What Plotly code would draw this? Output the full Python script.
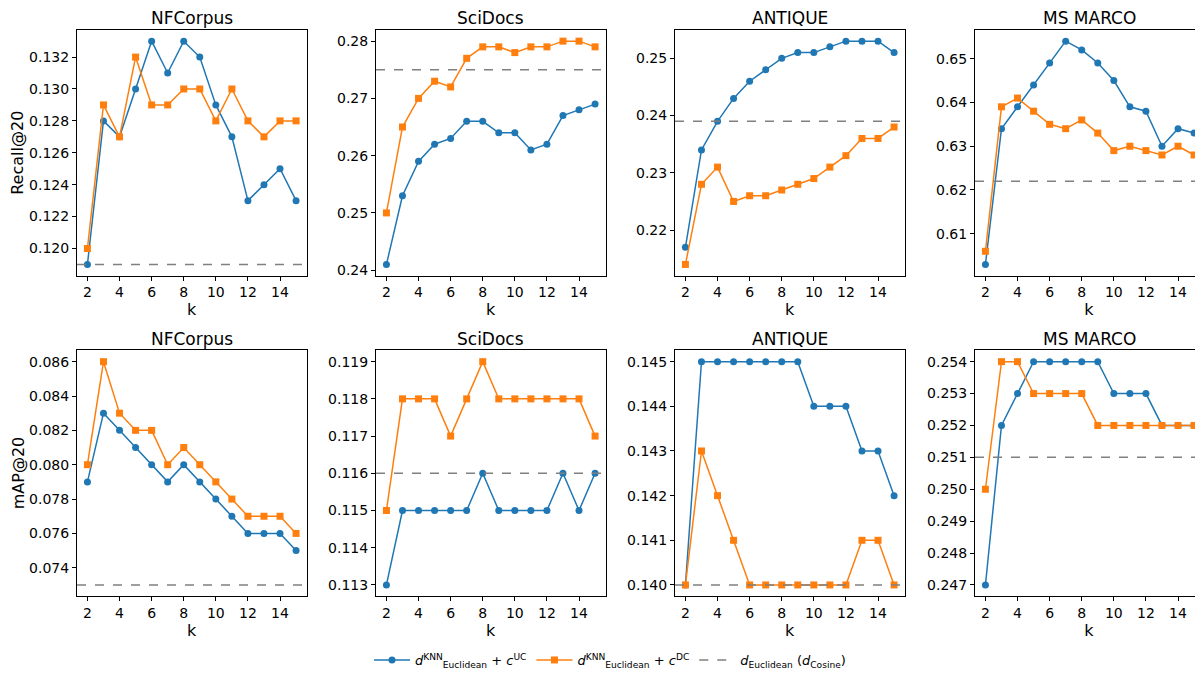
import plotly.graph_objects as go

k = list(range(2, 16))
datasets = ["NFCorpus", "SciDocs", "ANTIQUE", "MS MARCO"]

recall_uc = {
    "NFCorpus": [0.119, 0.128, 0.127, 0.130, 0.133, 0.131, 0.133, 0.132, 0.129, 0.127, 0.123, 0.124, 0.125, 0.123],
    "SciDocs": [0.241, 0.253, 0.259, 0.262, 0.263, 0.266, 0.266, 0.264, 0.264, 0.261, 0.262, 0.267, 0.268, 0.269],
    "ANTIQUE": [0.217, 0.234, 0.239, 0.243, 0.246, 0.248, 0.250, 0.251, 0.251, 0.252, 0.253, 0.253, 0.253, 0.251],
    "MS MARCO": [0.603, 0.634, 0.639, 0.644, 0.649, 0.654, 0.652, 0.649, 0.645, 0.639, 0.638, 0.630, 0.634, 0.633],
}
recall_dc = {
    "NFCorpus": [0.120, 0.129, 0.127, 0.132, 0.129, 0.129, 0.130, 0.130, 0.128, 0.130, 0.128, 0.127, 0.128, 0.128],
    "SciDocs": [0.250, 0.265, 0.270, 0.273, 0.272, 0.277, 0.279, 0.279, 0.278, 0.279, 0.279, 0.280, 0.280, 0.279],
    "ANTIQUE": [0.214, 0.228, 0.231, 0.225, 0.226, 0.226, 0.227, 0.228, 0.229, 0.231, 0.233, 0.236, 0.236, 0.238],
    "MS MARCO": [0.606, 0.639, 0.641, 0.638, 0.635, 0.634, 0.636, 0.633, 0.629, 0.630, 0.629, 0.628, 0.630, 0.628],
}
recall_base = {"NFCorpus": 0.119, "SciDocs": 0.275, "ANTIQUE": 0.239, "MS MARCO": 0.622}

map_uc = {
    "NFCorpus": [0.079, 0.083, 0.082, 0.081, 0.080, 0.079, 0.080, 0.079, 0.078, 0.077, 0.076, 0.076, 0.076, 0.075],
    "SciDocs": [0.113, 0.115, 0.115, 0.115, 0.115, 0.115, 0.116, 0.115, 0.115, 0.115, 0.115, 0.116, 0.115, 0.116],
    "ANTIQUE": [0.140, 0.145, 0.145, 0.145, 0.145, 0.145, 0.145, 0.145, 0.144, 0.144, 0.144, 0.143, 0.143, 0.142],
    "MS MARCO": [0.247, 0.252, 0.253, 0.254, 0.254, 0.254, 0.254, 0.254, 0.253, 0.253, 0.253, 0.252, 0.252, 0.252],
}
map_dc = {
    "NFCorpus": [0.080, 0.086, 0.083, 0.082, 0.082, 0.080, 0.081, 0.080, 0.079, 0.078, 0.077, 0.077, 0.077, 0.076],
    "SciDocs": [0.115, 0.118, 0.118, 0.118, 0.117, 0.118, 0.119, 0.118, 0.118, 0.118, 0.118, 0.118, 0.118, 0.117],
    "ANTIQUE": [0.140, 0.143, 0.142, 0.141, 0.140, 0.140, 0.140, 0.140, 0.140, 0.140, 0.140, 0.141, 0.141, 0.140],
    "MS MARCO": [0.250, 0.254, 0.254, 0.253, 0.253, 0.253, 0.253, 0.252, 0.252, 0.252, 0.252, 0.252, 0.252, 0.252],
}
map_base = {"NFCorpus": 0.073, "SciDocs": 0.116, "ANTIQUE": 0.140, "MS MARCO": 0.251}

recall_dtick = {"NFCorpus": 0.002, "SciDocs": 0.01, "ANTIQUE": 0.01, "MS MARCO": 0.01}
recall_fmt = {"NFCorpus": ".3f", "SciDocs": ".2f", "ANTIQUE": ".2f", "MS MARCO": ".2f"}
map_dtick = {"NFCorpus": 0.002, "SciDocs": 0.001, "ANTIQUE": 0.001, "MS MARCO": 0.001}
map_fmt = {"NFCorpus": ".3f", "SciDocs": ".3f", "ANTIQUE": ".3f", "MS MARCO": ".3f"}

legend_names = [
    "<i>d</i><sup>KNN</sup><sub>Euclidean</sub> + <i>c</i><sup>UC</sup>",
    "<i>d</i><sup>KNN</sup><sub>Euclidean</sub> + <i>c</i><sup>DC</sup>",
    "<i>d</i><sub>Euclidean</sub> (<i>d</i><sub>Cosine</sub>)",
]

BLUE = "#1f77b4"
ORANGE = "#ff7f0e"
GRAY = "#808080"
FONT = "DejaVu Sans"
PAGE_W, PAGE_H = 1203, 675
OFF = 8  # default body margin of the page
W, H = PAGE_W - OFF, PAGE_H - OFF


def px_x(p):
    return (p - OFF) / W


def px_y(p):
    return 1 - (p - OFF) / H


left_px = [77, 376, 675, 975]
width_px = 229.5
row_px = [(30, 276), (351, 597)]

fig = go.Figure()
layout = {}
shapes = []
annotations = []

idx = 0
for r, (uc_d, dc_d, base_d, dt_d, fmt_d, ylab) in enumerate([
    (recall_uc, recall_dc, recall_base, recall_dtick, recall_fmt, "Recall@20"),
    (map_uc, map_dc, map_base, map_dtick, map_fmt, "mAP@20"),
]):
    for c, name in enumerate(datasets):
        idx += 1
        xa = "x" if idx == 1 else f"x{idx}"
        ya = "y" if idx == 1 else f"y{idx}"
        xk = "xaxis" if idx == 1 else f"xaxis{idx}"
        yk = "yaxis" if idx == 1 else f"yaxis{idx}"
        uc, dc, base = uc_d[name], dc_d[name], base_d[name]
        vals = uc + dc + [base]
        lo, hi = min(vals), max(vals)
        pad = 0.05 * (hi - lo)
        x0p = left_px[c]
        x1p = min(x0p + width_px, PAGE_W)
        xr0, xr1 = 2 - 0.65, 15 + 0.65
        if x0p + width_px > PAGE_W:
            xr1 = xr0 + (xr1 - xr0) * (PAGE_W - x0p) / width_px
        top, bot = row_px[r]
        show = (idx == 1)
        fig.add_trace(go.Scatter(
            x=k, y=uc, mode="lines+markers", name=legend_names[0],
            line=dict(color=BLUE, width=1.5),
            marker=dict(symbol="circle", size=7, color=BLUE),
            xaxis=xa, yaxis=ya, showlegend=show, legendgroup="uc", cliponaxis=False))
        fig.add_trace(go.Scatter(
            x=k, y=dc, mode="lines+markers", name=legend_names[1],
            line=dict(color=ORANGE, width=1.5),
            marker=dict(symbol="square", size=7, color=ORANGE),
            xaxis=xa, yaxis=ya, showlegend=show, legendgroup="dc", cliponaxis=False))
        shapes.append(dict(type="line", xref=f"{xa} domain", x0=0, x1=1,
                           yref=ya, y0=base, y1=base,
                           line=dict(color=GRAY, width=1.5, dash="dash")))
        layout[xk] = dict(
            domain=[px_x(x0p), min(px_x(x1p), 1.0)], range=[xr0, xr1], anchor=ya,
            tickmode="array", tickvals=list(range(2, 16, 2)),
            ticks="outside", ticklen=4, tickcolor="black",
            showline=True, linecolor="black", linewidth=1, mirror=True,
            showgrid=False, zeroline=False, automargin=False,
            tickfont=dict(family=FONT, size=14, color="black"),
            title=dict(text="k", font=dict(family=FONT, size=16, color="black"), standoff=0),
        )
        layout[yk] = dict(
            domain=[px_y(bot), px_y(top)], range=[lo - pad, hi + pad], anchor=xa,
            dtick=dt_d[name], tick0=0, tickformat=fmt_d[name],
            ticks="outside", ticklen=4, tickcolor="black",
            showline=True, linecolor="black", linewidth=1, mirror=(c < 3),
            showgrid=False, zeroline=False, automargin=False,
            tickfont=dict(family=FONT, size=14, color="black"),
        )
        annotations.append(dict(
            text=name, x=px_x(x0p + width_px / 2), y=px_y(top - 12),
            xref="paper", yref="paper", showarrow=False, xanchor="center", yanchor="middle",
            font=dict(family=FONT, size=17, color="black")))
        if c == 0:
            annotations.append(dict(
                text=ylab, x=px_x(18), y=px_y((top + bot) / 2), textangle=-90,
                xref="paper", yref="paper", showarrow=False, xanchor="center", yanchor="middle",
                font=dict(family=FONT, size=16, color="black")))

fig.add_trace(go.Scatter(
    x=[None], y=[None], mode="lines", name=legend_names[2],
    line=dict(color=GRAY, width=1.5, dash="dash"), showlegend=True))

fig.update_layout(
    width=W, height=H, margin=dict(l=0, r=0, t=0, b=0),
    plot_bgcolor="white", paper_bgcolor="white",
    font=dict(family=FONT, color="black"),
    shapes=shapes, annotations=annotations,
    legend=dict(orientation="h", x=px_x(610), y=px_y(661), xanchor="center", yanchor="middle",
                font=dict(family=FONT, size=13, color="black"), itemwidth=36,
                bgcolor="rgba(0,0,0,0)"),
    **layout,
)

fig.write_html("out.html")
